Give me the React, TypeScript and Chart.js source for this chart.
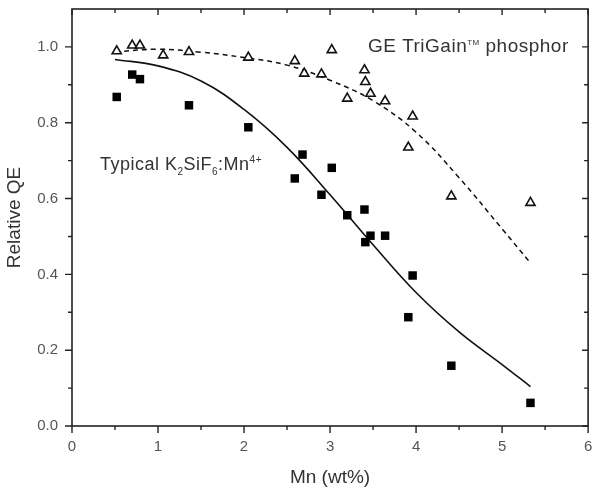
import { useEffect, useRef } from "react";
import { Chart, registerables } from "chart.js";

Chart.register(...registerables);

// ---- data ----
const squareX = [0.52, 0.7, 0.79, 1.36, 2.05, 2.59, 2.68, 2.9, 3.02, 3.2, 3.4, 3.41, 3.47, 3.64, 3.91, 3.96, 4.41, 5.33];
const squareY = [0.868, 0.927, 0.915, 0.846, 0.788, 0.653, 0.716, 0.61, 0.681, 0.556, 0.571, 0.485, 0.502, 0.502, 0.287, 0.397, 0.159, 0.061];

const triX = [0.52, 0.7, 0.79, 1.06, 1.36, 2.05, 2.59, 2.7, 2.9, 3.02, 3.2, 3.4, 3.41, 3.47, 3.64, 3.91, 3.96, 4.41, 5.33];
const triY = [0.989, 1.004, 1.004, 0.978, 0.987, 0.972, 0.963, 0.93, 0.928, 0.992, 0.864, 0.939, 0.908, 0.877, 0.857, 0.735, 0.817, 0.606, 0.589];

const fitX = [0.5, 1.0, 1.5, 2.0, 2.5, 3.0, 3.5, 4.0, 4.5, 5.0, 5.33];
const solidFitY = [0.967, 0.95, 0.91, 0.835, 0.735, 0.61, 0.478, 0.352, 0.248, 0.162, 0.104];
const dashedFitY = [0.987, 0.994, 0.986, 0.972, 0.952, 0.912, 0.858, 0.775, 0.655, 0.52, 0.43];

const xMajorTicks = [0, 1, 2, 3, 4, 5, 6];
const xMinorTicks = [0.5, 1.5, 2.5, 3.5, 4.5, 5.5];
const yMajorTicks = [0, 0.2, 0.4, 0.6, 0.8, 1.0];
const yMinorTicks = [0.1, 0.3, 0.5, 0.7, 0.9];

const xTitle = "Mn (wt%)";
const yTitle = "Relative QE";

const FONT = "'Liberation Sans', Arial, sans-serif";

type Seg = { t: string; size: number; dy: number };

const geLabel: Seg[] = [
  { t: "GE TriGain", size: 19, dy: 0 },
  { t: "TM", size: 8, dy: -7 },
  { t: " phosphor", size: 19, dy: 0 },
];
const geLabelPos = { x: 3.44, y: 0.987 };

const kLabel: Seg[] = [
  { t: "Typical K", size: 18, dy: 0 },
  { t: "2", size: 10, dy: 5 },
  { t: "SiF", size: 18, dy: 0 },
  { t: "6", size: 10, dy: 5 },
  { t: ":Mn", size: 18, dy: 0 },
  { t: "4+", size: 10, dy: -7 },
];
const kLabelPos = { x: 0.325, y: 0.676 };

const framePlugin = {
  id: "framePlugin",
  afterDraw(chart: any) {
    const { ctx, chartArea } = chart;
    const xs = chart.scales.x;
    const ys = chart.scales.y;
    const { left, right, top, bottom } = chartArea;
    ctx.save();
    ctx.strokeStyle = "#222";
    ctx.lineWidth = 1.6;
    ctx.strokeRect(left, top, right - left, bottom - top);
    ctx.lineWidth = 1.4;
    ctx.beginPath();
    const hTick = (vals: number[], outLen: number, inLen: number) => {
      vals.forEach((v) => {
        const px = xs.getPixelForValue(v);
        ctx.moveTo(px, bottom);
        ctx.lineTo(px, bottom + outLen);
        ctx.moveTo(px, top);
        ctx.lineTo(px, top + inLen);
      });
    };
    const vTick = (vals: number[], outLen: number, inLen: number) => {
      vals.forEach((v) => {
        const py = ys.getPixelForValue(v);
        ctx.moveTo(left, py);
        ctx.lineTo(left - outLen, py);
        ctx.moveTo(right, py);
        ctx.lineTo(right - inLen, py);
      });
    };
    hTick(xMajorTicks, 7, 6);
    hTick(xMinorTicks, 4, 4);
    vTick(yMajorTicks, 7, 6);
    vTick(yMinorTicks, 4, 4);
    ctx.stroke();

    const drawRich = (segs: Seg[], pos: { x: number; y: number }) => {
      let x = xs.getPixelForValue(pos.x);
      const y = ys.getPixelForValue(pos.y);
      ctx.fillStyle = "#333";
      ctx.textBaseline = "alphabetic";
      ctx.textAlign = "left";
      (ctx as any).letterSpacing = "0.5px";
      segs.forEach((s) => {
        ctx.font = `${s.size}px ${FONT}`;
        ctx.fillText(s.t, x, y + s.dy);
        x += ctx.measureText(s.t).width;
      });
      (ctx as any).letterSpacing = "0px";
    };
    drawRich(geLabel, geLabelPos);
    drawRich(kLabel, kLabelPos);
    ctx.restore();
  },
};

export default function App() {
  const ref = useRef<HTMLCanvasElement | null>(null);
  useEffect(() => {
    document.body.style.margin = "0";
    if (!ref.current) return;
    const chart = new Chart(ref.current, {
      type: "scatter",
      data: {
        datasets: [
          {
            label: "K2SiF6:Mn4+",
            data: squareX.map((x, i) => ({ x, y: squareY[i] })),
            pointStyle: "rect",
            pointRadius: 6,
            backgroundColor: "#000",
            borderColor: "#000",
            borderWidth: 0,
            showLine: false,
          },
          {
            label: "GE TriGain",
            data: triX.map((x, i) => ({ x, y: triY[i] })),
            pointStyle: "triangle",
            pointRadius: 5.3,
            backgroundColor: "#fff",
            borderColor: "#111",
            borderWidth: 1.6,
            showLine: false,
          },
          {
            label: "fit K2SiF6",
            data: fitX.map((x, i) => ({ x, y: solidFitY[i] })),
            showLine: true,
            pointRadius: 0,
            borderColor: "#111",
            borderWidth: 1.6,
            tension: 0.4,
          } as any,
          {
            label: "fit GE",
            data: fitX.map((x, i) => ({ x, y: dashedFitY[i] })),
            showLine: true,
            pointRadius: 0,
            borderColor: "#111",
            borderWidth: 1.5,
            borderDash: [5, 4],
            tension: 0.4,
          } as any,
        ],
      },
      options: {
        responsive: false,
        animation: false,
        devicePixelRatio: 1,
        layout: { padding: { top: 9, right: 5, left: 0, bottom: 0 } },
        plugins: { legend: { display: false }, tooltip: { enabled: false } },
        scales: {
          x: {
            type: "linear",
            min: 0,
            max: 6,
            grid: { display: false, drawTicks: false },
            border: { display: false },
            afterBuildTicks: (s: any) => {
              s.ticks = xMajorTicks.map((v) => ({ value: v }));
            },
            afterFit: (s: any) => {
              s.height = 63;
              s.paddingLeft = 0;
              s.paddingRight = 0;
            },
            ticks: {
              padding: 12,
              color: "#555",
              font: { family: FONT, size: 15 },
              callback: (v: any) => String(v),
            },
            title: {
              display: true,
              text: xTitle,
              color: "#333",
              font: { family: FONT, size: 19 },
              padding: { top: 0, bottom: 0 },
            },
          },
          y: {
            type: "linear",
            min: 0,
            max: 1.1,
            grid: { display: false, drawTicks: false },
            border: { display: false },
            afterBuildTicks: (s: any) => {
              s.ticks = yMajorTicks.map((v) => ({ value: v }));
            },
            afterFit: (s: any) => {
              s.width = 72;
              s.paddingTop = 0;
              s.paddingBottom = 0;
            },
            ticks: {
              padding: 14,
              color: "#555",
              font: { family: FONT, size: 15 },
              callback: (v: any) => Number(v).toFixed(1),
            },
            title: {
              display: true,
              text: yTitle,
              color: "#333",
              font: { family: FONT, size: 19 },
              padding: { top: 3, bottom: 0 },
            },
          },
        },
      },
      plugins: [framePlugin],
    });
    return () => chart.destroy();
  }, []);
  return (
    <div style={{ width: 595, height: 489, background: "#fff" }}>
      <canvas ref={ref} width={595} height={489} />
    </div>
  );
}
